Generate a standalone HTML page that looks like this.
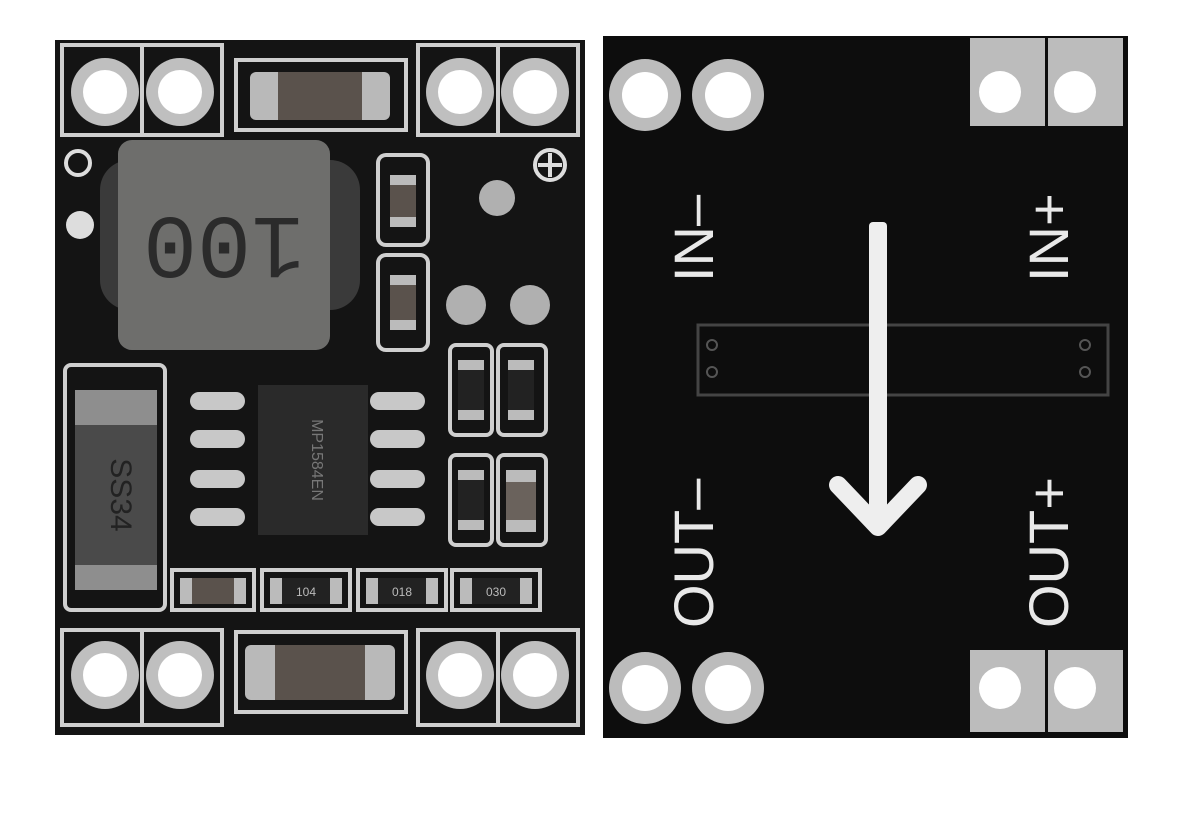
<!DOCTYPE html>
<html><head><meta charset="utf-8"><style>
html,body{margin:0;padding:0;background:#fff;}
svg{display:block}
</style></head><body>
<svg width="1199" height="840" viewBox="0 0 1199 840" xmlns="http://www.w3.org/2000/svg" font-family="Liberation Sans, sans-serif">
<rect width="1199" height="840" fill="#fff"/>
<rect x="55" y="40" width="530" height="695" fill="#141414"/>
<g fill="none" stroke="#cfcfcf" stroke-width="4">
 <rect x="62" y="45" width="80" height="90"/>
 <rect x="142" y="45" width="80" height="90"/>
 <rect x="418" y="45" width="80" height="90"/>
 <rect x="498" y="45" width="80" height="90"/>
 <rect x="236" y="60" width="170" height="70"/>
 <rect x="62" y="630" width="80" height="95"/>
 <rect x="142" y="630" width="80" height="95"/>
 <rect x="418" y="630" width="80" height="95"/>
 <rect x="498" y="630" width="80" height="95"/>
 <rect x="236" y="632" width="170" height="80"/>
 <rect x="65" y="365" width="100" height="245" rx="6"/>
 <rect x="378" y="155" width="50" height="90" rx="8"/>
 <rect x="378" y="255" width="50" height="95" rx="8"/>
 <rect x="450" y="345" width="42" height="90" rx="6"/>
 <rect x="498" y="345" width="48" height="90" rx="6"/>
 <rect x="450" y="455" width="42" height="90" rx="6"/>
 <rect x="498" y="455" width="48" height="90" rx="6"/>
 <rect x="172" y="570" width="82" height="40"/>
 <rect x="262" y="570" width="88" height="40"/>
 <rect x="358" y="570" width="88" height="40"/>
 <rect x="452" y="570" width="88" height="40"/>
</g>
<g fill="#bfbfbf">
 <circle cx="105" cy="92" r="34"/><circle cx="180" cy="92" r="34"/>
 <circle cx="460" cy="92" r="34"/><circle cx="535" cy="92" r="34"/>
 <circle cx="105" cy="675" r="34"/><circle cx="180" cy="675" r="34"/>
 <circle cx="460" cy="675" r="34"/><circle cx="535" cy="675" r="34"/>
</g>
<g fill="#fff">
 <circle cx="105" cy="92" r="22"/><circle cx="180" cy="92" r="22"/>
 <circle cx="460" cy="92" r="22"/><circle cx="535" cy="92" r="22"/>
 <circle cx="105" cy="675" r="22"/><circle cx="180" cy="675" r="22"/>
 <circle cx="460" cy="675" r="22"/><circle cx="535" cy="675" r="22"/>
</g>
<rect x="250" y="72" width="140" height="48" rx="6" fill="#b9b9b9"/>
<rect x="278" y="72" width="84" height="48" fill="#5a524c"/>
<rect x="245" y="645" width="150" height="55" rx="6" fill="#b9b9b9"/>
<rect x="275" y="645" width="90" height="55" fill="#5a524c"/>
<rect x="100" y="160" width="260" height="150" rx="30" fill="#3a3a3a"/>
<rect x="118" y="140" width="212" height="210" rx="14" fill="#6e6e6c"/>
<text x="224" y="262" font-size="90" fill="#2b2b2b" text-anchor="middle" transform="rotate(180 224 240)" font-family="Liberation Mono, monospace">100</text>
<circle cx="80" cy="225" r="14" fill="#ddd"/>
<circle cx="78" cy="163" r="12" fill="none" stroke="#ddd" stroke-width="4"/>
<circle cx="550" cy="165" r="15" fill="none" stroke="#ddd" stroke-width="4"/>
<path d="M538 165h24M550 153v24" stroke="#ddd" stroke-width="4"/>
<rect x="75" y="390" width="82" height="200" fill="#8e8e8e"/>
<rect x="75" y="425" width="82" height="140" fill="#4a4a4a"/>
<text x="116" y="500" font-size="30" fill="#222" text-anchor="middle" transform="rotate(90 116 495)">SS34</text>
<g fill="#c8c8c8">
 <rect x="190" y="392" width="55" height="18" rx="9"/><rect x="190" y="430" width="55" height="18" rx="9"/>
 <rect x="190" y="470" width="55" height="18" rx="9"/><rect x="190" y="508" width="55" height="18" rx="9"/>
 <rect x="370" y="392" width="55" height="18" rx="9"/><rect x="370" y="430" width="55" height="18" rx="9"/>
 <rect x="370" y="470" width="55" height="18" rx="9"/><rect x="370" y="508" width="55" height="18" rx="9"/>
</g>
<rect x="258" y="385" width="110" height="150" fill="#2a2a2a"/>
<text x="312" y="460" font-size="16" fill="#777" text-anchor="middle" transform="rotate(90 312 460)">MP1584EN</text>
<rect x="390" y="175" width="26" height="52" fill="#5a524c"/><rect x="390" y="175" width="26" height="10" fill="#bbb"/><rect x="390" y="217" width="26" height="10" fill="#bbb"/>
<rect x="390" y="275" width="26" height="55" fill="#5a524c"/><rect x="390" y="275" width="26" height="10" fill="#bbb"/><rect x="390" y="320" width="26" height="10" fill="#bbb"/>
<rect x="458" y="360" width="26" height="60" fill="#222"/><rect x="458" y="360" width="26" height="10" fill="#bbb"/><rect x="458" y="410" width="26" height="10" fill="#bbb"/>
<rect x="508" y="360" width="26" height="60" fill="#222"/><rect x="508" y="360" width="26" height="10" fill="#bbb"/><rect x="508" y="410" width="26" height="10" fill="#bbb"/>
<rect x="458" y="470" width="26" height="60" fill="#222"/><rect x="458" y="470" width="26" height="10" fill="#bbb"/><rect x="458" y="520" width="26" height="10" fill="#bbb"/>
<rect x="506" y="470" width="30" height="62" fill="#6a625c"/><rect x="506" y="470" width="30" height="12" fill="#bbb"/><rect x="506" y="520" width="30" height="12" fill="#bbb"/>
<rect x="180" y="578" width="66" height="26" fill="#5a524c"/><rect x="180" y="578" width="12" height="26" fill="#bbb"/><rect x="234" y="578" width="12" height="26" fill="#bbb"/>
<rect x="270" y="578" width="72" height="26" fill="#222"/><rect x="270" y="578" width="12" height="26" fill="#bbb"/><rect x="330" y="578" width="12" height="26" fill="#bbb"/>
<rect x="366" y="578" width="72" height="26" fill="#222"/><rect x="366" y="578" width="12" height="26" fill="#bbb"/><rect x="426" y="578" width="12" height="26" fill="#bbb"/>
<rect x="460" y="578" width="72" height="26" fill="#222"/><rect x="460" y="578" width="12" height="26" fill="#bbb"/><rect x="520" y="578" width="12" height="26" fill="#bbb"/>
<g font-size="12" fill="#bbb" text-anchor="middle"><text x="306" y="596">104</text><text x="402" y="596">018</text><text x="496" y="596">030</text></g>
<circle cx="497" cy="198" r="18" fill="#b0b0b0"/>
<circle cx="466" cy="305" r="20" fill="#b0b0b0"/><circle cx="530" cy="305" r="20" fill="#b0b0b0"/>
<rect x="603" y="36" width="525" height="702" fill="#0d0d0d"/>
<g fill="#bcbcbc">
 <rect x="970" y="38" width="75" height="88"/><rect x="1048" y="38" width="75" height="88"/>
 <rect x="970" y="650" width="75" height="82"/><rect x="1048" y="650" width="75" height="82"/>
 <circle cx="645" cy="95" r="36"/><circle cx="728" cy="95" r="36"/>
 <circle cx="645" cy="688" r="36"/><circle cx="728" cy="688" r="36"/>
</g>
<g fill="#fff">
 <circle cx="1000" cy="92" r="21"/><circle cx="1075" cy="92" r="21"/>
 <circle cx="1000" cy="688" r="21"/><circle cx="1075" cy="688" r="21"/>
 <circle cx="645" cy="95" r="23"/><circle cx="728" cy="95" r="23"/>
 <circle cx="645" cy="688" r="23"/><circle cx="728" cy="688" r="23"/>
</g>
<rect x="698" y="325" width="410" height="70" fill="none" stroke="#444" stroke-width="3"/>
<g fill="none" stroke="#555" stroke-width="2"><circle cx="712" cy="345" r="5"/><circle cx="712" cy="372" r="5"/><circle cx="1085" cy="345" r="5"/><circle cx="1085" cy="372" r="5"/></g>
<rect x="869" y="222" width="18" height="300" rx="4" fill="#eee"/>
<path d="M838 485 L878 527 L918 485" fill="none" stroke="#eee" stroke-width="18" stroke-linejoin="round" stroke-linecap="round"/>
<g font-size="56" fill="#e8e8e8">
 <text x="0" y="0" transform="translate(713 282) rotate(-90)">IN–</text>
 <text x="0" y="0" transform="translate(713 628) rotate(-90)">OUT–</text>
 <text x="0" y="0" transform="translate(1068 282) rotate(-90)">IN+</text>
 <text x="0" y="0" transform="translate(1068 628) rotate(-90)">OUT+</text>
</g>
</svg>
</body></html>
